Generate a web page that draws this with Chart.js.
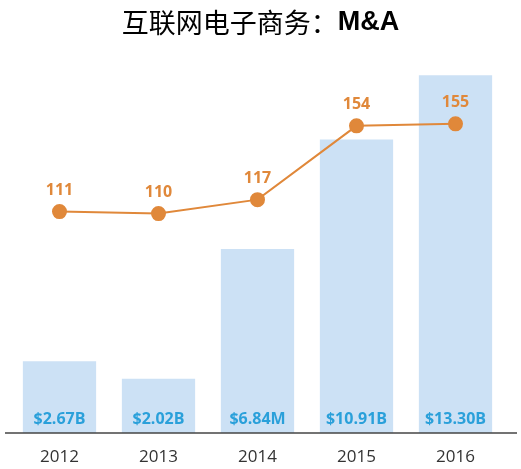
<!DOCTYPE html>
<html>
<head>
<meta charset="utf-8">
<script src="https://cdn.jsdelivr.net/npm/chart.js@4"></script>
<style>
    html, body { margin: 0; padding: 0; background: #fff; }
    #wrap { width: 521px; height: 469px; }
</style>
</head>
<body>
<div id="wrap"><canvas id="maChart"></canvas></div>
<script>
const years = ['2012', '2013', '2014', '2015', '2016'];
const dealValues = [2.67, 2.02, 6.84, 10.91, 13.30];
const dealLabels = ['$2.67B', '$2.02B', '$6.84M', '$10.91B', '$13.30B'];
const dealCounts = [111, 110, 117, 154, 155];

const titleCn = '互联网电子商务：';
const titleEn = 'M&A';

// title: chinese part in regular weight, "M&A" in bold
const twoPartTitle = {
    id: 'twoPartTitle',
    afterDraw(chart) {
        const ctx = chart.ctx;
        ctx.save();
        const cnFont = '27px "Noto Sans CJK SC"';
        const enFont = 'bold 27px "Liberation Sans", Arial';
        ctx.font = cnFont;
        const w1 = ctx.measureText(titleCn).width;
        ctx.font = enFont;
        const w2 = ctx.measureText(titleEn).width;
        let x = (chart.width - w1 - w2) / 2;
        const y = 23;
        ctx.textBaseline = 'middle';
        ctx.textAlign = 'left';
        ctx.fillStyle = '#000';
        ctx.font = cnFont;
        ctx.fillText(titleCn, x, y);
        ctx.font = enFont;
        ctx.fillText(titleEn, x + w1, y);
        ctx.restore();
    }
};

// baseline + value labels
const valueLabels = {
    id: 'valueLabels',
    afterDatasetsDraw(chart) {
        const ctx = chart.ctx;
        const area = chart.chartArea;
        ctx.save();

        ctx.strokeStyle = '#444';
        ctx.lineWidth = 1.5;
        ctx.beginPath();
        ctx.moveTo(5, area.bottom);
        ctx.lineTo(chart.width - 4, area.bottom);
        ctx.stroke();

        ctx.textAlign = 'center';
        ctx.textBaseline = 'middle';
        ctx.font = 'bold 16px "Open Sans"';

        ctx.fillStyle = '#2aa0da';
        chart.getDatasetMeta(1).data.forEach((bar, i) => {
            ctx.fillText(dealLabels[i], bar.x, area.bottom - 14);
        });

        ctx.fillStyle = '#e0883a';
        chart.getDatasetMeta(0).data.forEach((pt, i) => {
            ctx.fillText(String(dealCounts[i]), pt.x, pt.y - 21);
        });
        ctx.restore();
    }
};

new Chart(document.getElementById('maChart'), {
    data: {
        labels: years,
        datasets: [
            {
                type: 'line',
                label: 'Deals',
                data: dealCounts,
                yAxisID: 'y1',
                order: 0,
                borderColor: '#e0883a',
                borderWidth: 2,
                pointBackgroundColor: '#e0883a',
                pointBorderColor: '#e0883a',
                pointRadius: 6.5,
                pointHoverRadius: 6.5,
                tension: 0,
                fill: false
            },
            {
                type: 'bar',
                label: 'Value',
                data: dealValues,
                yAxisID: 'y',
                order: 1,
                backgroundColor: '#cce1f5',
                borderWidth: 0,
                categoryPercentage: 1,
                barPercentage: 0.74
            }
        ]
    },
    options: {
        responsive: true,
        maintainAspectRatio: false,
        animation: false,
        layout: {
            padding: { top: 60, left: 10, right: 16, bottom: 0 }
        },
        plugins: {
            legend: { display: false },
            title: { display: false },
            tooltip: { enabled: false }
        },
        scales: {
            x: {
                offset: true,
                grid: { display: false, drawTicks: false },
                border: { display: false },
                ticks: {
                    color: '#333',
                    padding: 14,
                    font: { family: '"Open Sans"', size: 17 }
                },
                afterFit(scale) {
                    scale.height = 36;
                }
            },
            y: {
                display: false,
                min: 0,
                max: 13.87
            },
            y1: {
                display: false,
                min: 0,
                max: 187
            }
        }
    },
    plugins: [twoPartTitle, valueLabels]
});
</script>
</body>
</html>
